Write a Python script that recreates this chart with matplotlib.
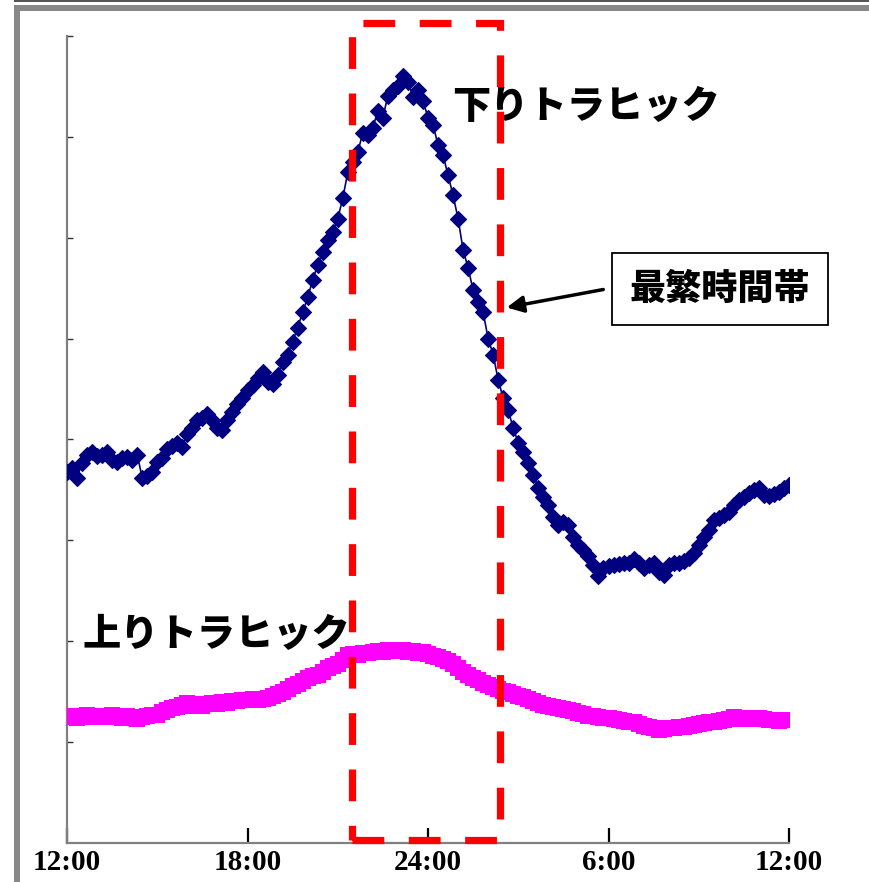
import numpy as np
import matplotlib
matplotlib.use("Agg")
import matplotlib.pyplot as plt
from matplotlib.patches import Rectangle, FancyArrowPatch

# ---- data (10-minute samples from 12:00 to next-day 12:00) ----
minutes = np.arange(0, 24 * 60 + 1, 10)

downstream = [
    3.68, 3.72, 3.62, 3.77, 3.85, 3.88, 3.84, 3.85, 3.88, 3.80,
    3.78, 3.82, 3.83, 3.80, 3.85, 3.62, 3.64, 3.68, 3.78, 3.82,
    3.91, 3.94, 3.97, 3.93, 4.05, 4.11, 4.19, 4.21, 4.25, 4.19,
    4.11, 4.09, 4.19, 4.27, 4.35, 4.41, 4.49, 4.54, 4.61, 4.67,
    4.57, 4.55, 4.64, 4.77, 4.84, 4.97, 5.11, 5.26, 5.41, 5.58,
    5.73, 5.86, 5.98, 6.06, 6.19, 6.39, 6.65, 6.75, 6.85, 7.04,
    7.02, 7.09, 7.26, 7.19, 7.41, 7.46, 7.50, 7.60, 7.54, 7.40,
    7.46, 7.36, 7.19, 7.12, 6.92, 6.82, 6.62, 6.42, 6.19, 5.88,
    5.70, 5.48, 5.36, 5.26, 5.00, 4.84, 4.59, 4.41, 4.29, 4.11,
    3.97, 3.88, 3.77, 3.65, 3.52, 3.43, 3.35, 3.23, 3.15, 3.18,
    3.15, 3.03, 2.95, 2.90, 2.85, 2.76, 2.65, 2.73, 2.75, 2.76,
    2.77, 2.78, 2.78, 2.82, 2.78, 2.73, 2.76, 2.78, 2.69, 2.66,
    2.76, 2.78, 2.78, 2.80, 2.83, 2.87, 2.95, 3.03, 3.10, 3.20,
    3.22, 3.25, 3.28, 3.35, 3.40, 3.43, 3.47, 3.50, 3.52, 3.45,
    3.44, 3.46, 3.48, 3.52, 3.55,
]

upstream = [
    1.25, 1.26, 1.24, 1.26, 1.27, 1.25, 1.26, 1.26, 1.25, 1.27,
    1.26, 1.24, 1.26, 1.25, 1.23, 1.25, 1.26, 1.27, 1.27, 1.30,
    1.32, 1.34, 1.35, 1.37, 1.39, 1.36, 1.38, 1.36, 1.38, 1.39,
    1.38, 1.40, 1.39, 1.41, 1.41, 1.42, 1.42, 1.43, 1.42, 1.43,
    1.44, 1.46, 1.48, 1.50, 1.53, 1.56, 1.58, 1.61, 1.64, 1.66,
    1.67, 1.70, 1.73, 1.75, 1.77, 1.81, 1.86, 1.87, 1.86, 1.88,
    1.88, 1.89, 1.90, 1.89, 1.91, 1.90, 1.91, 1.91, 1.89, 1.90,
    1.88, 1.89, 1.87, 1.85, 1.84, 1.82, 1.80, 1.77, 1.73, 1.70,
    1.67, 1.64, 1.62, 1.59, 1.57, 1.55, 1.53, 1.51, 1.50, 1.48,
    1.46, 1.45, 1.43, 1.41, 1.39, 1.37, 1.36, 1.35, 1.34, 1.33,
    1.32, 1.31, 1.29, 1.28, 1.26, 1.26, 1.25, 1.24, 1.24, 1.23,
    1.22, 1.21, 1.20, 1.20, 1.18, 1.16, 1.15, 1.14, 1.12, 1.13,
    1.14, 1.14, 1.15, 1.15, 1.16, 1.17, 1.18, 1.19, 1.20, 1.20,
    1.21, 1.22, 1.23, 1.25, 1.23, 1.24, 1.24, 1.23, 1.24, 1.23,
    1.22, 1.22, 1.21, 1.22, 1.22,
]

tick_minutes = [0, 360, 720, 1080, 1440]
tick_labels = ["12:00", "18:00", "24:00", "6:00", "12:00"]

peak_start = 568   # minutes after 12:00 (~21:28)
peak_end = 864     # (~02:24)

label_down = "下りトラヒック"
label_up = "上りトラヒック"
label_peak = "最繁時間帯"

# ---- figure ----
W, H = 869, 882
fig = plt.figure(figsize=(W / 100, H / 100), dpi=100)
fig.patch.set_facecolor("white")

# slide-like frame
fig.add_artist(Rectangle((14 / W, 1 - 2 / H), 1, 2 / H, transform=fig.transFigure,
                         facecolor="#555555", edgecolor="none"))
fig.add_artist(Rectangle((14 / W, 1 - 11 / H), 1, 6 / H, transform=fig.transFigure,
                         facecolor="#888888", edgecolor="none"))
fig.add_artist(Rectangle((14 / W, 0), 6 / W, 1 - 5 / H, transform=fig.transFigure,
                         facecolor="#888888", edgecolor="none"))

ax = fig.add_axes([67 / W, (H - 843) / H, (789 - 67) / W, (843 - 36) / H])
ax.set_xlim(0, 1440)
ax.set_ylim(0, 8)

ax.plot(minutes, downstream, color="#000080", marker="D", markersize=8.5,
        linewidth=1.2, markeredgewidth=0.8, zorder=3)
ax.plot(minutes, upstream, color="#FF00FF", marker="s", markersize=11,
        linewidth=1.0, markeredgewidth=0, zorder=3)

# peak-hour dashed rectangle
rect = Rectangle((peak_start, 0.03), peak_end - peak_start, 8.13 - 0.03,
                 fill=False, edgecolor="#FF0000", linewidth=5.2,
                 linestyle=(0, (4.4, 3.4)), clip_on=False, zorder=4)
ax.add_patch(rect)

# axes styling
for s in ("top", "right"):
    ax.spines[s].set_visible(False)
for s in ("left", "bottom"):
    ax.spines[s].set_color("#808080")
    ax.spines[s].set_linewidth(1.6)

ax.set_xticks(tick_minutes)
ax.set_xticklabels(tick_labels, fontfamily="Liberation Serif", fontweight="bold",
                   fontsize=21)
ax.tick_params(axis="x", direction="in", length=11, width=1.6, color="black", pad=4)
ax.set_yticks(np.arange(1, 9))
ax.set_yticklabels([])
ax.tick_params(axis="y", direction="in", length=4, width=1.0, color="#333333")

jp = ["Noto Sans CJK JP", "DejaVu Sans"]
ax.text(0.534, 0.912, label_down, transform=ax.transAxes, fontsize=27.5,
        fontweight="black", family=jp, ha="left", va="center", color="black")
ax.text(0.022, 0.258, label_up, transform=ax.transAxes, fontsize=27.5,
        fontweight="black", family=jp, ha="left", va="center", color="black")

# peak label box
fig.text(720 / W, 1 - 289 / H, label_peak, fontsize=26, fontweight="black", family=jp,
         ha="center", va="center", color="black",
         bbox=dict(boxstyle="square,pad=0.5", facecolor="white", edgecolor="black",
                   linewidth=1.3))

arrow = FancyArrowPatch((606 / W, 1 - 289 / H), (504 / W, 1 - 308 / H),
                        transform=fig.transFigure, arrowstyle="-|>,head_length=10,head_width=5",
                        color="black", linewidth=2.5, mutation_scale=1)
fig.add_artist(arrow)

fig.savefig("out.png", dpi=100, facecolor="white")
